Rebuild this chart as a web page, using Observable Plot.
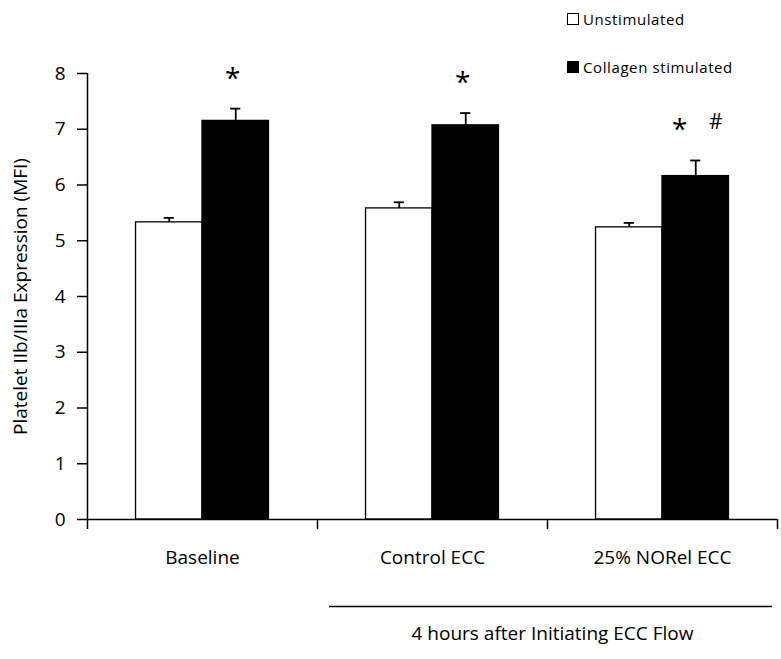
<!DOCTYPE html>
<html>
<head>
<meta charset="utf-8">
<script src="https://cdn.jsdelivr.net/npm/d3@7"></script>
<script src="https://cdn.jsdelivr.net/npm/@observablehq/plot@0.6"></script>
<style>
  body { margin: 0; background: #fff; }
  #wrap { position: relative; width: 781px; height: 659px; font-family: "Open Sans", sans-serif; }
  .legend { position: absolute; left: 567px; font-size: 15px; color: #000; display: flex; align-items: center; white-space: nowrap; letter-spacing: 0.6px; }
  .legend .sw { width: 10px; height: 10px; border: 1px solid #000; margin-right: 4px; box-sizing: content-box; }
</style>
</head>
<body>
<div id="wrap"></div>
<script>
// ---- data ----
const categories = ["Baseline", "Control ECC", "25% NORel ECC"];
const series = ["Unstimulated", "Collagen stimulated"];
const seriesFill = ["#ffffff", "#000000"];
const unstimulated = [5.33, 5.58, 5.24];
const unstimulatedErr = [0.08, 0.11, 0.08];
const collagen = [7.15, 7.07, 6.16];
const collagenErr = [0.22, 0.22, 0.28];
const starMarks = ["*", "*", "*"];
const hashMarks = ["", "", "#"];
const yTicks = [0, 1, 2, 3, 4, 5, 6, 7, 8];
const yLabel = "Platelet IIb/IIIa Expression (MFI)";
const spanLabel = "4 hours after Initiating ECC Flow";
const spanCategories = ["Control ECC", "25% NORel ECC"];

// ---- layout helpers (group geometry within each category band) ----
const groupPad = 0.211;   // empty share of band on each side of the bar pair
const capHalf = 0.022;    // half width of error-bar caps, in band units

const rows = [];
categories.forEach((cat, i) => {
  [unstimulated, collagen].forEach((vals, s) => {
    const errs = s === 0 ? unstimulatedErr : collagenErr;
    const x1 = s === 0 ? i + groupPad : i + 0.5;
    const x2 = s === 0 ? i + 0.5 : i + 1 - groupPad;
    rows.push({cat, i, s, series: series[s], value: vals[i], err: errs[i], x1, x2, xc: (x1 + x2) / 2});
  });
});
const blackRows = rows.filter(d => d.s === 1);
const starOnly = blackRows.filter(d => starMarks[d.i] && !hashMarks[d.i]);
const starWithHash = blackRows.filter(d => starMarks[d.i] && hashMarks[d.i]);
const spanStart = categories.indexOf(spanCategories[0]);
const spanEnd = categories.indexOf(spanCategories[spanCategories.length - 1]) + 1;
const spanData = [{x1: spanStart, x2: spanEnd, label: spanLabel}];
const errTop = d => d.value + d.err;

const chart = Plot.plot({
  width: 781,
  height: 659,
  marginLeft: 87,
  marginRight: 4,
  marginTop: 73,
  marginBottom: 140,
  style: {fontFamily: "'Open Sans', sans-serif", fontSize: "19px", color: "#000", background: "#fff", overflow: "visible"},
  x: {domain: [0, categories.length]},
  y: {domain: [0, 8]},
  marks: [
    Plot.rectY(rows, {x1: "x1", x2: "x2", y1: 0, y2: "value", fill: d => seriesFill[d.s], stroke: "#000", strokeWidth: 1.3}),
    Plot.ruleX(rows, {x: "xc", y1: "value", y2: errTop, stroke: "#000", strokeWidth: 1.8}),
    Plot.ruleY(rows, {y: errTop, x1: d => d.xc - capHalf, x2: d => d.xc + capHalf, stroke: "#000", strokeWidth: 1.8}),
    Plot.ruleY([0], {stroke: "#000", strokeWidth: 1.5}),
    Plot.ruleX([0], {y1: 0, y2: 8, stroke: "#000", strokeWidth: 1.5}),
    Plot.axisY({ticks: yTicks, tickSize: 10, tickPadding: 12, tickFormat: d => d, label: yLabel, labelAnchor: "center", labelArrow: "none", labelOffset: 74, strokeWidth: 1.5, fontSize: 19}),
    Plot.axisX({ticks: d3.range(categories.length + 1), tickSize: 10, tickFormat: () => "", label: null, strokeWidth: 1.5}),
    Plot.text(categories, {x: (d, i) => i + 0.5, frameAnchor: "bottom", dy: 44, text: d => d, fontSize: 19}),
    Plot.text(starOnly, {x: "xc", y: errTop, dy: -30, dx: -3, text: d => starMarks[d.i], fontSize: 28}),
    Plot.text(starWithHash, {x: "xc", y: errTop, dy: -30, dx: -16, text: d => starMarks[d.i], fontSize: 28}),
    Plot.text(starWithHash, {x: "xc", y: errTop, dy: -38, dx: 20, text: d => hashMarks[d.i], fontSize: 21}),
    Plot.ruleY(spanData, {y: 0, x1: "x1", x2: "x2", insetLeft: 12, insetRight: 5, dy: 87, stroke: "#000", strokeWidth: 1.5}),
    Plot.text(spanData, {x: d => (d.x1 + d.x2) / 2, frameAnchor: "bottom", dy: 120, dx: 5, text: "label", fontSize: 19})
  ]
});

const wrap = document.getElementById("wrap");
wrap.appendChild(chart);
const legendTops = [9, 57];
series.forEach((name, s) => {
  const item = document.createElement("div");
  item.className = "legend";
  item.style.top = legendTops[s] + "px";
  const sw = document.createElement("span");
  sw.className = "sw";
  sw.style.background = seriesFill[s];
  const label = document.createElement("span");
  label.textContent = name;
  item.appendChild(sw);
  item.appendChild(label);
  wrap.appendChild(item);
});
</script>
</body>
</html>
